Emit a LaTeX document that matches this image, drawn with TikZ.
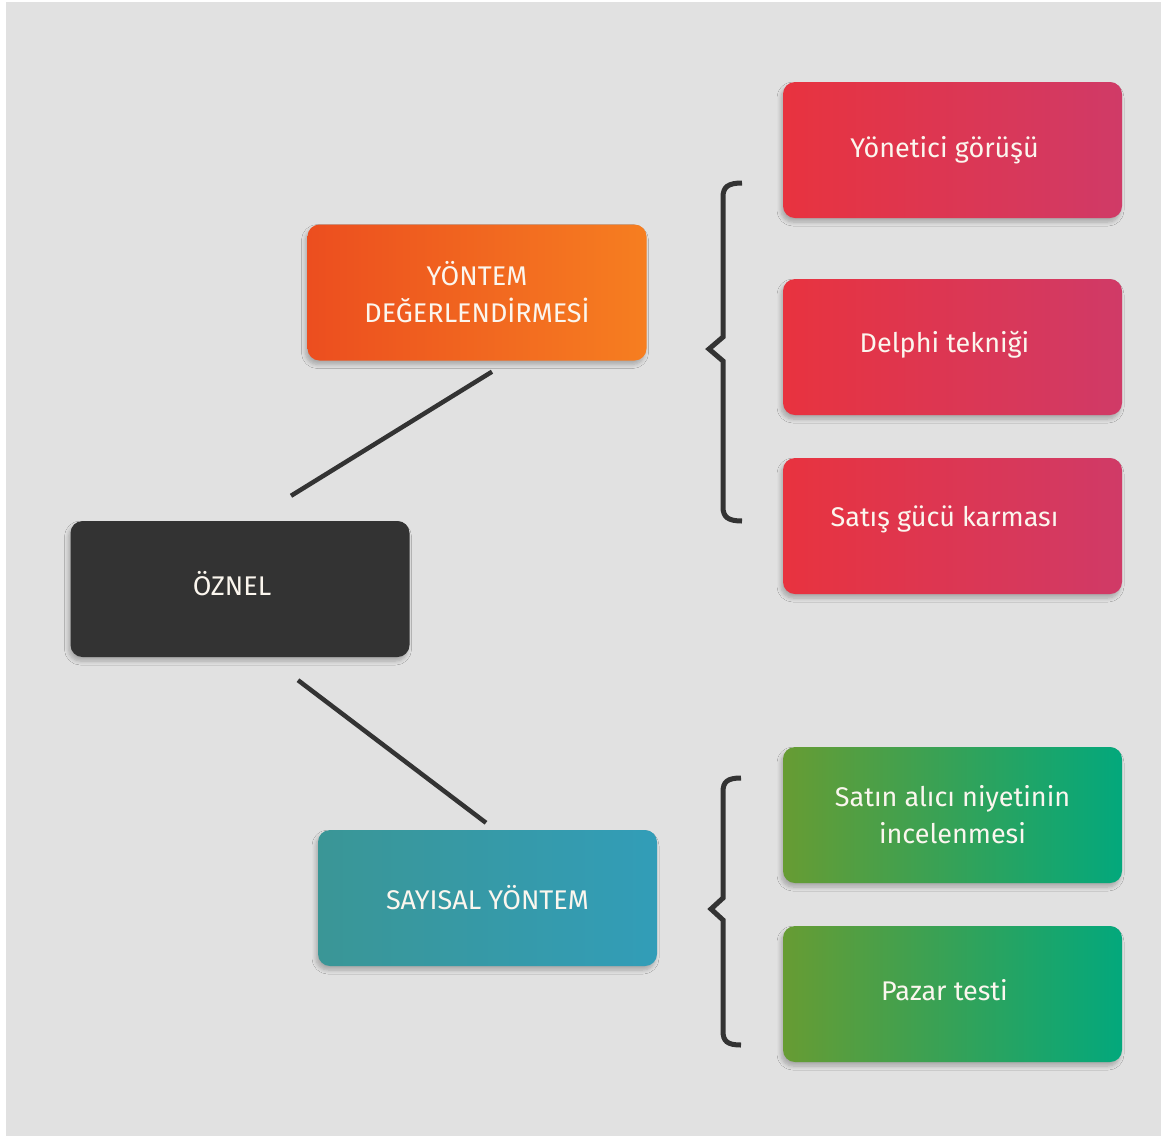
\documentclass[tikz,border=0pt]{standalone}
\usepackage{fontspec}
\setmainfont{Fira Sans}
\usetikzlibrary{calc,shadows.blur}

\definecolor{pagebg}{HTML}{E1E1E1}
\definecolor{ink}{HTML}{333333}
\definecolor{labeltext}{HTML}{FBF6EE}
\definecolor{redA}{HTML}{E8333F}
\definecolor{redB}{HTML}{D03A67}
\definecolor{orangeA}{HTML}{EC4E1F}
\definecolor{orangeB}{HTML}{F67E20}
\definecolor{tealA}{HTML}{3A9696}
\definecolor{tealB}{HTML}{329DB8}
\definecolor{greenA}{HTML}{679C33}
\definecolor{greenB}{HTML}{03A87C}

\begin{document}
\begin{tikzpicture}[x=1pt,y=-1pt,
  card/.style={rectangle, rounded corners=12pt, minimum width=339pt,
    minimum height=136pt, inner sep=0pt, text=labeltext, align=center,
    font=\fontsize{27}{37}\selectfont,
    blur shadow={shadow xshift=-2pt, shadow yshift=-4pt,
      shadow opacity=25, shadow blur steps=6, shadow blur radius=4pt}},
  % label sits a little left of the card centre
  leftlabel/.style={execute at end node={\kern16pt}},
  redcard/.style={card, leftlabel, left color=redA, right color=redB},
  greencard/.style={card, left color=greenA, right color=greenB},
  link/.style={draw=ink, line width=4.5pt},
  bracket/.style={draw=ink, line width=5pt, line join=miter}
]
% page
\fill[white] (0,0) rectangle (1161,1136);
\fill[pagebg] (6,2) rectangle (1161,1136);
\useasboundingbox (0,0) rectangle (1161,1136);

% left column
\node[card, leftlabel, fill=ink, text depth=12pt] (oznel) at (240,589) {ÖZNEL};
\node[card, left color=orangeA, right color=orangeB] (yontem) at (477,292.5)
  {YÖNTEM\\DEĞERLENDİRMESİ};
\node[card, left color=tealA, right color=tealB] (sayisal) at (487.5,898)
  {SAYISAL YÖNTEM};

% right column
\node[redcard] (yon) at (952.5,150) {Yönetici görüşü};
\node[redcard, text depth=10pt] (delphi) at (952.5,347) {Delphi tekniği};
\node[redcard, text depth=19pt] (satis) at (952.5,526) {Satış gücü karması};
\node[greencard] (alici) at (952.5,815) {Satın alıcı niyetinin\\incelenmesi};
\node[greencard, leftlabel, text depth=8pt] (pazar) at (952.5,994) {Pazar testi};

% connectors
\draw[link] ($(oznel.north)+(51,-25)$) -- ($(yontem.south)+(15,11)$);
\draw[link] ($(oznel.south)+(58,23)$) -- ($(sayisal.north)+(-1.5,-7)$);

% braces
\coordinate (b1) at (742,183);
\draw[bracket] (b1) .. controls (728,183) and (723,187) .. (723,197)
  -- (723,337) -- (709,349) -- (723,361) -- (723,507)
  .. controls (723,517) and (728,521) .. (742,521);
\coordinate (b2) at (741,778);
\draw[bracket] (b2) .. controls (727,778) and (723,782) .. (723,792)
  -- (723,898) -- (711,909) -- (723,920) -- (723,1031)
  .. controls (723,1041) and (727,1045) .. (741,1045);
\end{tikzpicture}
\end{document}
